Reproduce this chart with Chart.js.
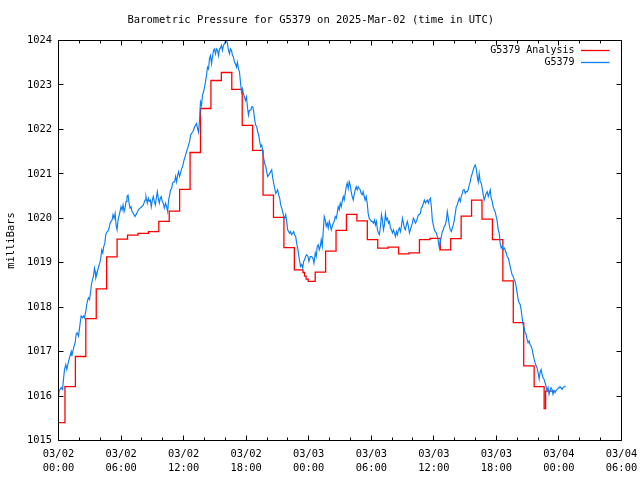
<!DOCTYPE html>
<html>
<head>
<meta charset="utf-8">
<title>Barometric Pressure for G5379</title>
<script src="https://cdn.jsdelivr.net/npm/chart.js@4.4.1/dist/chart.umd.min.js"></script>
<style>
  html, body { margin: 0; padding: 0; background: #fff; }
  #wrap { width: 640px; height: 480px; }
</style>
</head>
<body>
<div id="wrap"><canvas id="myChart" width="640" height="480"></canvas></div>
<script>
// hours after 2025-03-02 00:00 UTC
const stationName = 'G5379';
const chartTitle = 'Barometric Pressure for G5379 on 2025-Mar-02 (time in UTC)';

// analysis, stepped (value starts at the given hour)
const analysisHours = [
  0, 0.62, 1.62, 2.62, 3.62, 4.62, 5.62, 6.62, 7.62, 8.62,
  9.62, 10.62, 11.62, 12.62, 13.62, 14.62, 15.62, 16.62, 17.62, 18.62,
  19.62, 20.62, 21.62, 22.62, 23.45, 23.6, 23.75, 23.95, 24.62, 25.62,
  26.62, 27.62, 28.62, 29.62, 30.62, 31.62, 32.62, 33.62, 34.62, 35.62,
  36.62, 37.62, 38.62, 39.62, 40.62, 41.62, 42.62, 43.62, 44.62, 45.62,
  46.58, 46.72, 47.7,
];
const analysisValues = [
  1015.40, 1016.21, 1016.89, 1017.74, 1018.41, 1019.13, 1019.53, 1019.62, 1019.66, 1019.70,
  1019.93, 1020.16, 1020.65, 1021.48, 1022.47, 1023.10, 1023.28, 1022.90, 1022.09, 1021.53,
  1020.52, 1020.02, 1019.34, 1018.84, 1018.78, 1018.70, 1018.63, 1018.58, 1018.79, 1019.26,
  1019.73, 1020.09, 1019.94, 1019.52, 1019.33, 1019.35, 1019.20, 1019.22, 1019.52, 1019.55,
  1019.29, 1019.54, 1020.05, 1020.41, 1019.98, 1019.52, 1018.59, 1017.65, 1016.68, 1016.21,
  1015.72, 1016.11, 1016.11,
];

// station observations
const stationHours = [
  0.00, 0.07, 0.26, 0.39, 0.48, 0.58, 0.70, 0.80, 0.90, 1.02, 1.22, 1.28, 1.34, 1.50, 1.60, 1.69, 1.79, 1.92, 1.98, 2.08,
  2.17, 2.30, 2.40, 2.49, 2.62, 2.71, 2.81, 2.87, 2.97, 3.07, 3.16, 3.26, 3.35, 3.45, 3.51, 3.58, 3.67, 3.77, 3.86, 3.96,
  4.05, 4.15, 4.25, 4.34, 4.44, 4.53, 4.63, 4.72, 4.85, 4.95, 5.04, 5.14, 5.23, 5.33, 5.43, 5.52, 5.62, 5.71,
  5.90, 6.00, 6.10, 6.19, 6.29, 6.38, 6.48, 6.57, 6.67, 6.77, 6.86, 6.96, 7.05, 7.18, 7.34, 7.50, 7.66, 7.82, 7.98, 8.14,
  8.30, 8.39, 8.52, 8.62, 8.71, 8.81, 8.90, 9.00, 9.09, 9.19, 9.29, 9.38, 9.48, 9.57, 9.67, 9.76, 9.86, 9.95, 10.05, 10.15,
  10.27, 10.37, 10.47, 10.56, 10.66, 10.75, 10.85, 10.94, 11.04, 11.14, 11.23, 11.33, 11.42, 11.52, 11.61, 11.71, 11.81, 11.90, 12.00, 12.09,
  12.19, 12.28, 12.38, 12.48, 12.57, 12.67, 12.76, 12.86, 12.95, 13.05, 13.14, 13.24, 13.34, 13.43, 13.53, 13.62, 13.72, 13.81, 13.91, 14.01,
  14.10, 14.20, 14.29, 14.39, 14.48, 14.58, 14.68, 14.77, 14.87, 14.96, 15.06, 15.15, 15.25, 15.35, 15.44, 15.54, 15.63, 15.73, 15.82, 15.92,
  16.02, 16.11, 16.21, 16.30, 16.40, 16.49, 16.59, 16.69, 16.78, 16.88, 16.97, 17.07, 17.16, 17.26, 17.36, 17.45, 17.55, 17.64, 17.74, 17.83,
  17.93, 18.03, 18.12, 18.22, 18.31,
  18.44, 18.54, 18.63, 18.73, 18.82, 18.92, 19.01, 19.11, 19.21, 19.30, 19.40, 19.49, 19.59, 19.68, 19.78, 19.88, 19.97, 20.07, 20.16,
  20.26, 20.35, 20.45, 20.55, 20.64, 20.74, 20.83, 20.93, 21.02, 21.12, 21.22, 21.31, 21.41, 21.50, 21.60, 21.69, 21.79, 21.89, 21.98, 22.08,
  22.17, 22.27, 22.36, 22.46, 22.56, 22.65, 22.75, 22.84, 22.94, 23.03, 23.13, 23.22, 23.32, 23.42, 23.51, 23.61, 23.70, 23.80,
  23.93, 24.02, 24.15, 24.28, 24.41, 24.50, 24.63, 24.72, 24.82, 24.92, 25.01, 25.11, 25.20, 25.30, 25.39, 25.49, 25.59, 25.68, 25.78, 25.87,
  25.97, 26.06, 26.16, 26.26, 26.35, 26.45, 26.54, 26.64, 26.73, 26.83, 26.93, 27.02, 27.12, 27.21, 27.31, 27.40, 27.50, 27.60, 27.69, 27.79,
  27.88, 27.98, 28.07, 28.17, 28.27, 28.36, 28.46, 28.55, 28.65, 28.74, 28.84, 28.94, 29.03, 29.13, 29.22, 29.32, 29.41, 29.51, 29.61, 29.70, 29.80,
  29.92, 30.02, 30.11, 30.21, 30.31, 30.40, 30.50, 30.59, 30.69, 30.78, 30.88, 30.98, 31.07, 31.17, 31.26, 31.36, 31.45, 31.55, 31.65, 31.74,
  31.84, 31.93, 32.03, 32.12, 32.22, 32.32, 32.41, 32.51, 32.60, 32.70, 32.79, 32.89, 32.99, 33.08, 33.18, 33.27, 33.37, 33.46, 33.56, 33.66,
  33.75, 33.85, 33.94, 34.04, 34.13, 34.23, 34.33, 34.42, 34.52, 34.61, 34.71, 34.80, 34.90, 35.00, 35.09, 35.19, 35.28, 35.38, 35.47, 35.57,
  35.67, 35.76, 35.86, 35.95, 36.05, 36.14, 36.24, 36.34, 36.43, 36.53, 36.62, 36.72, 36.81, 36.91, 37.00, 37.10, 37.20, 37.29, 37.39, 37.48,
  37.58, 37.68, 37.77, 37.87, 37.96, 38.06, 38.15, 38.25, 38.34, 38.44, 38.54, 38.63, 38.73, 38.82, 38.92, 39.01, 39.11, 39.21, 39.30, 39.40,
  39.49, 39.59, 39.69, 39.78, 39.88, 39.97, 40.07, 40.16, 40.26, 40.35, 40.45, 40.55, 40.64, 40.74, 40.83, 40.93, 41.02, 41.12, 41.22, 41.31,
  41.41, 41.50, 41.60, 41.69, 41.79, 41.88, 41.98, 42.08, 42.17, 42.27,
  42.36, 42.46, 42.55, 42.65, 42.75, 42.84, 42.94, 43.03, 43.13, 43.22, 43.32, 43.42, 43.51, 43.61, 43.70, 43.80, 43.89, 43.99, 44.09, 44.18,
  44.28, 44.37, 44.47, 44.56, 44.66, 44.76, 44.85, 44.95, 45.04, 45.14, 45.23, 45.33, 45.43, 45.52, 45.62, 45.71, 45.81, 45.90, 46.00, 46.10,
  46.19, 46.29, 46.38, 46.48, 46.57, 46.67, 46.76, 46.86, 46.96, 47.05, 47.15, 47.24, 47.34, 47.43, 47.53, 47.63, 47.72, 47.82, 47.91, 48.01,
  48.10, 48.20, 48.30, 48.39, 48.49, 48.58,
];
const stationValues = [
  1016.00, 1016.12, 1016.19, 1016.15, 1016.38, 1016.60, 1016.71, 1016.60, 1016.71, 1016.83, 1017.00, 1016.90, 1016.97, 1017.13, 1017.20, 1017.39, 1017.42, 1017.35, 1017.46, 1017.65,
  1017.80, 1017.76, 1017.80, 1017.76, 1017.91, 1018.06, 1018.17, 1018.21, 1018.17, 1018.32, 1018.51, 1018.62, 1018.69, 1018.88, 1018.81, 1018.66, 1018.73, 1018.84, 1018.92, 1018.99,
  1019.10, 1019.29, 1019.22, 1019.37, 1019.43, 1019.63, 1019.69, 1019.70, 1019.78, 1019.89, 1019.93, 1019.96, 1020.08, 1020.00, 1020.11, 1019.85, 1019.74, 1019.96,
  1020.15, 1020.26, 1020.19, 1020.30, 1020.15, 1020.23, 1020.38, 1020.49, 1020.52, 1020.34, 1020.23, 1020.26, 1020.15, 1020.11, 1020.04, 1020.11, 1020.19, 1020.23, 1020.26, 1020.30,
  1020.41, 1020.49, 1020.34, 1020.45, 1020.38, 1020.41, 1020.26, 1020.41, 1020.49, 1020.38, 1020.30, 1020.45, 1020.60, 1020.45, 1020.34, 1020.45, 1020.49, 1020.38, 1020.34, 1020.23,
  1020.34, 1020.26, 1020.15, 1020.41, 1020.52, 1020.64, 1020.67, 1020.79, 1020.82, 1020.82, 1020.94, 1020.82, 1020.97, 1021.05, 1020.94, 1021.01, 1021.12, 1021.16, 1021.27, 1021.35,
  1021.42, 1021.50, 1021.57, 1021.65, 1021.72, 1021.87, 1021.91, 1021.94, 1021.98, 1022.06, 1022.09, 1022.13, 1022.02, 1021.94, 1022.21, 1022.62, 1022.54, 1022.77, 1022.84, 1022.95,
  1023.07, 1023.22, 1023.40, 1023.36, 1023.59, 1023.66, 1023.48, 1023.63, 1023.78, 1023.81, 1023.70, 1023.81, 1023.78, 1023.66, 1023.81, 1023.83, 1023.89, 1023.78, 1023.89, 1023.93,
  1023.98, 1024.00, 1023.93, 1023.78, 1023.70, 1023.81, 1023.78, 1023.66, 1023.63, 1023.51, 1023.48, 1023.40, 1023.51, 1023.36, 1023.29, 1023.07, 1022.84, 1022.92, 1022.80, 1022.73,
  1022.65, 1022.73, 1022.51, 1022.32, 1022.43,
  1022.43, 1022.51, 1022.51, 1022.39, 1022.21, 1022.09, 1022.06, 1021.94, 1021.87, 1021.72, 1021.61, 1021.65, 1021.50, 1021.35, 1021.23, 1021.16, 1021.05, 1020.94, 1020.97,
  1021.01, 1021.05, 1021.09, 1020.90, 1020.79, 1020.67, 1020.56, 1020.60, 1020.64, 1020.52, 1020.45, 1020.30, 1020.23, 1020.15, 1020.04, 1020.00, 1020.08, 1019.93, 1019.74, 1019.70,
  1019.66, 1019.70, 1019.63, 1019.66, 1019.70, 1019.63, 1019.59, 1019.44, 1019.33, 1019.18, 1019.03, 1018.92, 1018.96, 1018.88, 1019.03, 1019.07, 1019.14, 1019.18,
  1019.14, 1019.03, 1019.14, 1019.14, 1019.10, 1018.99, 1019.22, 1019.14, 1019.37, 1019.40, 1019.29, 1019.37, 1019.52, 1019.37, 1019.70, 1020.04, 1019.96, 1019.82, 1019.89, 1019.78,
  1019.93, 1019.85, 1019.74, 1019.82, 1019.89, 1019.93, 1020.04, 1020.00, 1020.11, 1020.26, 1020.19, 1020.34, 1020.26, 1020.38, 1020.49, 1020.41, 1020.56, 1020.71, 1020.79, 1020.67,
  1020.82, 1020.75, 1020.60, 1020.49, 1020.41, 1020.53, 1020.64, 1020.71, 1020.64, 1020.71, 1020.67, 1020.64, 1020.56, 1020.53, 1020.60, 1020.49, 1020.41, 1020.49, 1020.34, 1020.11, 1020.00,
  1019.96, 1019.93, 1019.93, 1019.89, 1019.96, 1019.85, 1019.93, 1019.74, 1019.67, 1019.63, 1019.82, 1020.08, 1019.96, 1019.74, 1019.85, 1020.11, 1019.96, 1020.00, 1019.89, 1019.93,
  1019.78, 1019.74, 1019.67, 1019.74, 1019.67, 1019.59, 1019.70, 1019.63, 1019.74, 1019.78, 1019.70, 1019.82, 1020.00, 1019.89, 1019.78, 1019.74, 1019.85, 1019.93, 1019.82, 1019.67,
  1019.74, 1019.82, 1019.89, 1020.00, 1019.96, 1019.89, 1019.93, 1020.00, 1020.08, 1020.08, 1020.11, 1020.23, 1020.26, 1020.34, 1020.41, 1020.34, 1020.38, 1020.41, 1020.34, 1020.41,
  1020.45, 1020.26, 1019.96, 1019.85, 1019.74, 1019.70, 1019.67, 1019.59, 1019.48, 1019.33, 1019.48, 1019.59, 1019.70, 1019.74, 1019.82, 1019.85, 1019.96, 1020.15, 1020.00, 1019.85,
  1019.74, 1019.70, 1019.78, 1019.85, 1019.96, 1020.11, 1020.26, 1020.30, 1020.38, 1020.45, 1020.38, 1020.49, 1020.56, 1020.64, 1020.64, 1020.56, 1020.60, 1020.60, 1020.64, 1020.75,
  1020.82, 1020.94, 1021.01, 1021.09, 1021.16, 1021.20, 1021.12, 1020.94, 1020.82, 1021.01, 1020.82, 1020.79, 1020.67, 1020.52, 1020.41, 1020.49, 1020.56, 1020.60, 1020.49, 1020.56,
  1020.64, 1020.45, 1020.38, 1020.26, 1020.19, 1020.15, 1020.04, 1019.93, 1019.74, 1019.67,
  1019.44, 1019.33, 1019.37, 1019.29, 1019.33, 1019.29, 1019.22, 1019.14, 1019.11, 1019.03, 1018.92, 1018.81, 1018.73, 1018.69, 1018.62, 1018.58, 1018.47, 1018.32, 1018.17, 1018.10,
  1018.06, 1017.95, 1017.76, 1017.61, 1017.54, 1017.42, 1017.39, 1017.27, 1017.20, 1017.24, 1017.16, 1017.12, 1017.05, 1016.94, 1016.83, 1016.75, 1016.68, 1016.64, 1016.53, 1016.38,
  1016.53, 1016.60, 1016.49, 1016.41, 1016.38, 1016.30, 1016.23, 1016.12, 1016.19, 1016.04, 1016.12, 1016.19, 1016.15, 1016.04, 1016.12, 1016.08, 1016.12, 1016.15, 1016.17, 1016.19,
  1016.21, 1016.19, 1016.15, 1016.19, 1016.21, 1016.23,
];

const xMin = 0;
const xMax = 54;
const yMin = 1015;
const yMax = 1024;

const monoFont = '"DejaVu Sans Mono", "Liberation Mono", monospace';

const toPoints = (hours, values) => hours.map((h, i) => ({ x: h, y: values[i] }));

// 03/02 00:00 style labels, one every six hours
const timeLabel = (value) => {
  if (value % 6 !== 0) {
    return '';
  }
  const day = 2 + Math.floor(value / 24);
  const hour = value % 24;
  const pad = (n) => (n < 10 ? '0' + n : '' + n);
  return ['03/' + pad(day), pad(hour) + ':00'];
};

// gnuplot-like frame: border with inward tics, key in the top right corner
const gnuFrame = {
  id: 'gnuFrame',
  afterDatasetsDraw(chart) {
    const { ctx, chartArea: area, scales } = chart;
    const x = scales.x;
    const y = scales.y;
    ctx.save();
    ctx.strokeStyle = '#000';
    ctx.lineWidth = 1;
    ctx.beginPath();
    ctx.rect(area.left, area.top, area.right - area.left, area.bottom - area.top);
    x.ticks.forEach((tick) => {
      const px = Math.floor(x.getPixelForValue(tick.value)) + 0.5;
      const len = tick.value % 6 === 0 ? 5 : 3;
      ctx.moveTo(px, area.bottom);
      ctx.lineTo(px, area.bottom - len);
      ctx.moveTo(px, area.top);
      ctx.lineTo(px, area.top + len);
    });
    y.ticks.forEach((tick) => {
      const py = Math.floor(y.getPixelForValue(tick.value)) + 0.5;
      ctx.moveTo(area.left, py);
      ctx.lineTo(area.left + 5, py);
      ctx.moveTo(area.right, py);
      ctx.lineTo(area.right - 5, py);
    });
    ctx.stroke();

    ctx.font = '10px ' + monoFont;
    ctx.textAlign = 'right';
    ctx.textBaseline = 'middle';
    chart.data.datasets.forEach((ds, i) => {
      const rowY = Math.floor(area.top + 9.5 + i * 12.5) + 0.5;
      ctx.fillStyle = '#000';
      ctx.fillText(ds.label, area.right - 47, rowY);
      ctx.strokeStyle = ds.borderColor;
      ctx.lineWidth = 1.3;
      ctx.beginPath();
      ctx.moveTo(area.right - 40.5, rowY);
      ctx.lineTo(area.right - 12, rowY);
      ctx.stroke();
    });
    ctx.restore();
  },
};

// keep the plot box fixed: no extra room for label overhang
const fixPadding = (scale) => {
  scale.paddingLeft = 0;
  scale.paddingRight = 0;
  scale.paddingTop = 0;
  scale.paddingBottom = 0;
};

const ctx = document.getElementById('myChart').getContext('2d');
const myChart = new Chart(ctx, {
  type: 'line',
  data: {
    datasets: [
      {
        label: stationName + ' Analysis',
        data: toPoints(analysisHours, analysisValues),
        borderColor: '#ff0000',
        borderWidth: 1.3,
        stepped: true,
        pointRadius: 0,
        fill: false,
        order: 1,
      },
      {
        label: stationName,
        data: toPoints(stationHours, stationValues),
        borderColor: '#0a7ef5',
        borderWidth: 1.15,
        tension: 0,
        pointRadius: 0,
        fill: false,
        order: 0,
      },
    ],
  },
  options: {
    responsive: false,
    animation: false,
    devicePixelRatio: 1,
    layout: { padding: { left: 0, right: 18.5, top: 0, bottom: 0 } },
    plugins: {
      legend: { display: false },
      tooltip: { enabled: false },
      title: {
        display: true,
        text: chartTitle,
        color: '#000',
        font: { family: monoFont, size: 10.5, weight: 'normal' },
        padding: { top: 14, bottom: 13.9 },
      },
    },
    scales: {
      x: {
        type: 'linear',
        min: xMin,
        max: xMax,
        grid: { display: false, drawTicks: false },
        border: { display: false },
        ticks: {
          stepSize: 2,
          autoSkip: false,
          maxRotation: 0,
          minRotation: 0,
          padding: 6.5,
          color: '#000',
          font: { family: monoFont, size: 10.4, lineHeight: 1.35 },
          callback: timeLabel,
        },
        afterFit: (scale) => {
          scale.height = 39.5;
          fixPadding(scale);
        },
      },
      y: {
        type: 'linear',
        min: yMin,
        max: yMax,
        grid: { display: false, drawTicks: false },
        border: { display: false },
        ticks: {
          stepSize: 1,
          padding: 6.5,
          color: '#000',
          font: { family: monoFont, size: 10.4 },
          callback: (value) => String(value),
        },
        title: {
          display: true,
          text: 'milliBars',
          color: '#000',
          font: { family: monoFont, size: 10.4 },
          padding: { top: 5.5, bottom: 0 },
        },
        afterFit: (scale) => {
          scale.width = 58.5;
          fixPadding(scale);
        },
      },
    },
  },
  plugins: [gnuFrame],
});
</script>
</body>
</html>
